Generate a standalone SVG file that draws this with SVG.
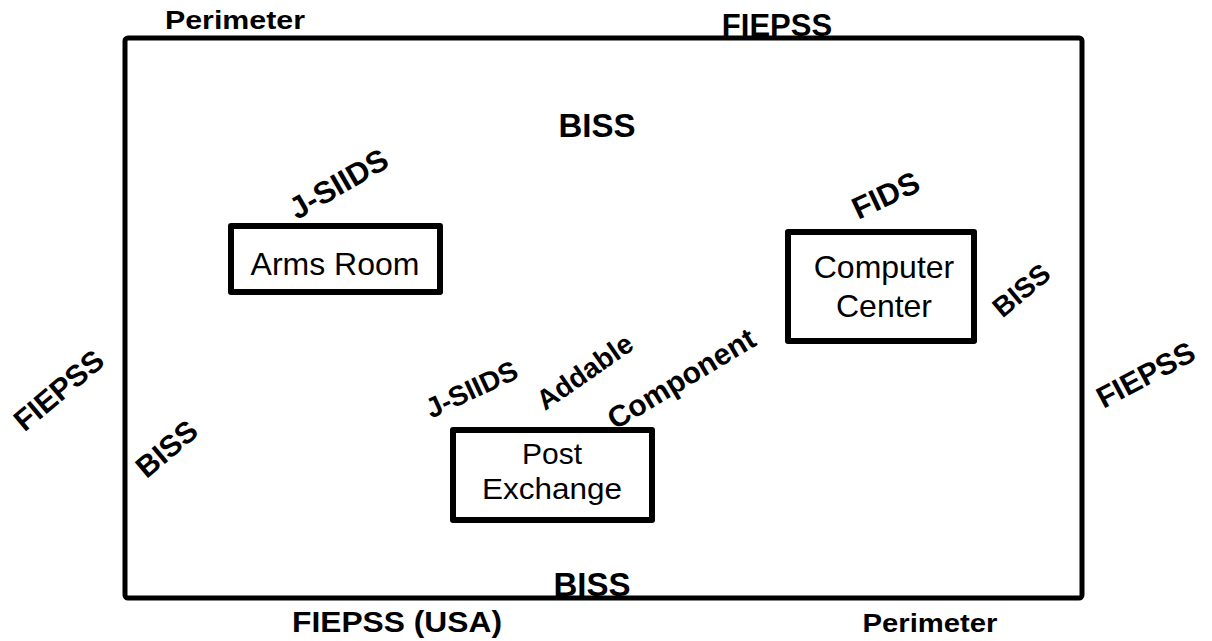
<svg xmlns="http://www.w3.org/2000/svg" width="1212" height="641" viewBox="0 0 1212 641">
<style>
.b{font-family:"Liberation Sans",Arial,Helvetica,sans-serif;font-weight:bold;fill:#000;text-anchor:middle}
.r{font-family:"Liberation Sans",Arial,Helvetica,sans-serif;fill:#000;text-anchor:middle;font-size:32px}
.box{fill:none;stroke:#000;stroke-width:6;stroke-linejoin:round}
.outer{fill:none;stroke:#000;stroke-width:5;stroke-linejoin:round}
</style>
<rect width="1212" height="641" fill="#fff"/>
<g id="perimeter">
<rect class="outer" x="125" y="38" width="957" height="560" rx="3"/>
<text class="b" font-size="25" x="235" y="29" textLength="140" lengthAdjust="spacingAndGlyphs">Perimeter</text>
<text class="b" font-size="31" x="777" y="36">FIEPSS</text>
<text class="b" font-size="33" x="597" y="137">BISS</text>
<text class="b" font-size="33" x="592" y="596">BISS</text>
<text class="b" font-size="29" x="397" y="632" textLength="210" lengthAdjust="spacingAndGlyphs">FIEPSS (USA)</text>
<text class="b" font-size="25" x="930" y="632" textLength="135" lengthAdjust="spacingAndGlyphs">Perimeter</text>
<text class="b" font-size="30" transform="translate(58.5,390) rotate(-40)" y="10.7">FIEPSS</text>
<text class="b" font-size="30" transform="translate(166.5,448.5) rotate(-40)" y="10.7">BISS</text>
<text class="b" font-size="30" transform="translate(1145.5,374.5) rotate(-28)" y="10.7">FIEPSS</text>
</g>
<g id="arms-room">
<rect class="box" x="231" y="226" width="209" height="66"/>
<text class="r" x="335" y="275">Arms Room</text>
<text class="b" font-size="31" transform="translate(338.5,183.5) rotate(-30)" y="11">J-SIIDS</text>
</g>
<g id="computer-center">
<rect class="box" x="788" y="232" width="186" height="109"/>
<text class="r" x="884" y="278">Computer</text>
<text class="r" x="884" y="317">Center</text>
<text class="b" font-size="31" transform="translate(885.5,195) rotate(-25)" y="11">FIDS</text>
<text class="b" font-size="28" transform="translate(1021,290) rotate(-40)" y="10">BISS</text>
</g>
<g id="post-exchange">
<rect class="box" x="453" y="430" width="199" height="90"/>
<text class="r" font-size="30" style="font-size:30px" x="552" y="464">Post</text>
<text class="r" font-size="30" style="font-size:30px" x="552" y="499" textLength="140" lengthAdjust="spacingAndGlyphs">Exchange</text>
<text class="b" font-size="28" transform="translate(471.5,389) rotate(-25)" y="10">J-SIIDS</text>
<text class="b" font-size="28" transform="translate(584.5,371.5) rotate(-35)" y="10">Addable</text>
<text class="b" font-size="30" transform="translate(681,378) rotate(-31)" y="11">Component</text>
</g>
<g id="connectors"></g>
</svg>
